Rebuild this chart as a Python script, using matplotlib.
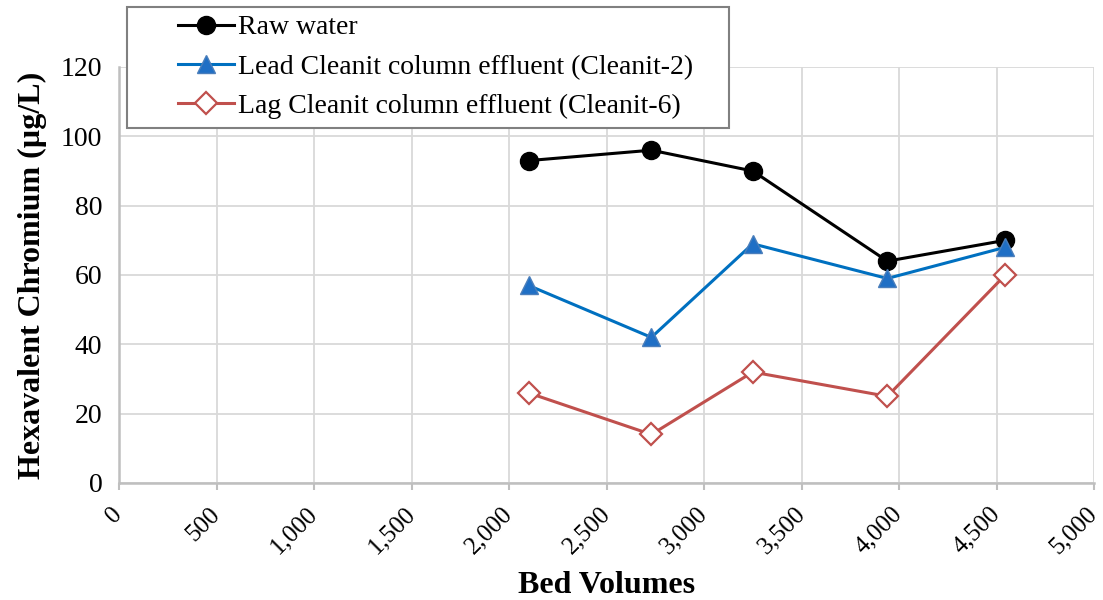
import matplotlib
matplotlib.use("Agg")
import matplotlib.pyplot as plt
import matplotlib.ticker as mticker
from matplotlib.patches import Rectangle

# DATA
bed_volumes = [2100, 2730, 3250, 3940, 4545]
raw_water = [93, 96, 90, 64, 70]
lead_cleanit = [57, 42, 69, 59, 68]
lag_cleanit = [26, 14, 32, 25, 60]
x_ticks = list(range(0, 5001, 500))
y_ticks = list(range(0, 121, 20))

plt.rcParams["font.family"] = ["Liberation Serif", "DejaVu Serif"]

GRID = "#D9D9D9"
AXIS = "#BFBFBF"
W, H = 1103, 600

fig = plt.figure(figsize=(W / 100, H / 100), dpi=100)
ax = fig.add_axes([119 / W, 1 - 483 / H, (1094 - 119) / W, (483 - 67) / H])

ax.plot(bed_volumes, raw_water, color="black", linewidth=2.2, marker="o",
        markersize=13, label="Raw water", zorder=3)
ax.plot(bed_volumes, lead_cleanit, color="#0070C0", linewidth=2.2, marker="^",
        markersize=13, markerfacecolor="#1F6FC5", markeredgecolor="#4A7EBB",
        label="Lead Cleanit column effluent (Cleanit-2)", zorder=3)
ax.plot(bed_volumes, lag_cleanit, color="#C0504D", linewidth=2.2, marker="D",
        markersize=11, markerfacecolor="white", markeredgecolor="#C0504D",
        markeredgewidth=1.6, label="Lag Cleanit column effluent (Cleanit-6)", zorder=3)

ax.set_xlim(0, 5000)
ax.set_ylim(0, 120)
ax.set_xticks(x_ticks)
ax.set_yticks(y_ticks)
ax.xaxis.set_major_formatter(mticker.FuncFormatter(lambda v, _: f"{v:,.0f}"))
ax.grid(True, color=GRID, linewidth=1.3)
ax.set_axisbelow(True)

for side in ["top", "right"]:
    ax.spines[side].set_visible(False)
for side in ["left", "bottom"]:
    ax.spines[side].set_color(AXIS)
    ax.spines[side].set_linewidth(1.8)

ax.tick_params(axis="y", length=0, pad=12, labelsize=20)
ax.tick_params(axis="x", length=5, color=AXIS, width=1.5, pad=15, labelsize=18)
for lbl in ax.get_xticklabels():
    lbl.set_rotation(45)
    lbl.set_ha("right")
    lbl.set_va("center")
    lbl.set_rotation_mode("anchor")

ax.set_xlabel("Bed Volumes", fontsize=23, fontweight="bold", labelpad=9)
ax.set_ylabel("Hexavalent Chromium (µg/L)", fontsize=23, fontweight="bold", labelpad=10)

# LEGEND: TEXT + HANDLES WITHOUT FRAME, FRAME DRAWN SEPARATELY
fig.patches.append(Rectangle((127 / W, 1 - 128 / H), (729 - 127) / W, (128 - 7) / H,
                             transform=fig.transFigure, facecolor="white",
                             edgecolor="#808080", linewidth=1.5, zorder=5))
leg = fig.legend(loc="upper left", bbox_to_anchor=(178 / W, 1 - 15 / H),
                 fontsize=20, frameon=False, handlelength=2.0,
                 borderpad=0, labelspacing=0.5, handletextpad=0.15,
                 borderaxespad=0)
leg.set_zorder(6)

fig.savefig("out.png", dpi=100, facecolor="white")
